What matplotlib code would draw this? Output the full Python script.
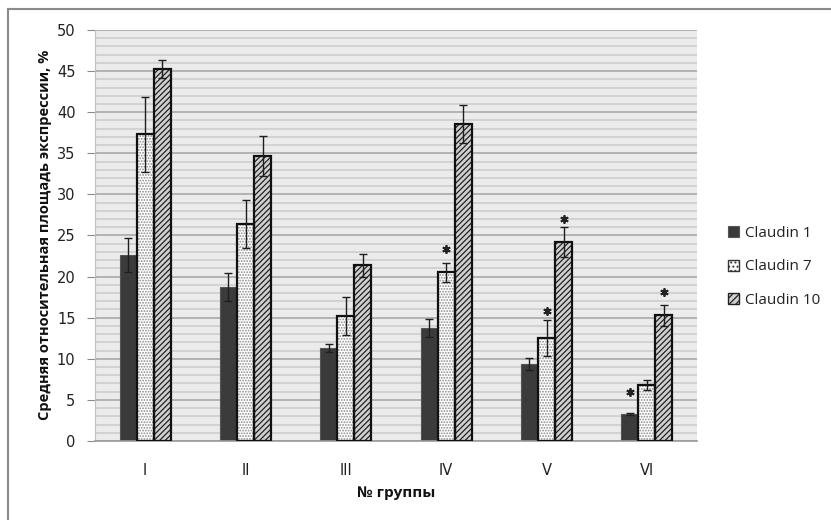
import matplotlib
matplotlib.use("Agg")
import matplotlib.pyplot as plt
import numpy as np
from matplotlib.lines import Line2D
from matplotlib.patches import Patch

groups = ["I", "II", "III", "IV", "V", "VI"]
series_names = ["Claudin 1", "Claudin 7", "Claudin 10"]
claudin1 = [22.6, 18.7, 11.3, 13.8, 9.4, 3.3]
claudin7 = [37.3, 26.4, 15.2, 20.5, 12.5, 6.8]
claudin10 = [45.25, 34.7, 21.4, 38.6, 24.2, 15.3]
err1 = [2.1, 1.7, 0.5, 1.1, 0.75, 0.1]
err7 = [4.6, 2.9, 2.3, 1.1, 2.2, 0.6]
err10 = [1.15, 2.45, 1.4, 2.3, 1.8, 1.3]
# significance marks: (group index, series index, y level of the asterisk)
stars = [(3, 1, 23.3), (4, 1, 15.8), (4, 2, 27.0), (5, 0, 6.0), (5, 2, 18.1)]

y_label = "Средняя относительная площадь экспрессии, %"
x_label = "№ группы"

plt.rcParams['font.family'] = ['DejaVu Sans']

W, H = 831, 520
fig = plt.figure(figsize=(W / 100, H / 100), dpi=100)
fig.patch.set_facecolor("white")
ax = fig.add_axes([95 / W, 1 - 441 / H, 602 / W, 411 / H])
ax.set_facecolor("#ebebeb")

# outer chart frame (left and top visible)
fig.add_artist(Line2D([8 / W, 8 / W], [0, 1 - 9 / H], color="#8a8a8a", lw=1.5))
fig.add_artist(Line2D([8 / W, 1], [1 - 9 / H, 1 - 9 / H], color="#8a8a8a", lw=1.5))

ax.set_xlim(-0.5, len(groups) - 0.5)
ax.set_ylim(0, 50)

# grid
ax.set_yticks(np.arange(0, 51, 5))
ax.set_yticks(np.arange(0, 51, 1), minor=True)
ax.grid(axis="y", which="minor", color="#d0d0d0", lw=1.3, zorder=0)
ax.grid(axis="y", which="major", color="#a3a3a3", lw=1.1, zorder=0)
ax.set_axisbelow(True)

x = np.arange(len(groups))
w = 0.17
data = [claudin1, claudin7, claudin10]
errs = [err1, err7, err10]
plt.rcParams['hatch.linewidth'] = 0.9

# Claudin 1 - solid dark
ax.bar(x - w, claudin1, w, color="#3b3b3b", edgecolor="#555555", lw=0.8, zorder=2)
# Claudin 7 - dotted
ax.bar(x, claudin7, w, color="white", edgecolor="#8c8c8c", hatch="......", lw=0, zorder=2)
ax.bar(x, claudin7, w, fill=False, edgecolor="#111111", lw=1.6, zorder=3)
# Claudin 10 - diagonal hatch
ax.bar(x + w, claudin10, w, color="#d0d0d0", edgecolor="#222222", hatch="//////", lw=0, zorder=2)
ax.bar(x + w, claudin10, w, fill=False, edgecolor="#111111", lw=1.6, zorder=3)

for j in range(3):
    ax.errorbar(x + (j - 1) * w, data[j], yerr=errs[j], fmt="none",
                ecolor="#1e1e1e", elinewidth=1.0, capsize=3, capthick=1.0, zorder=4)

for gi, si, yv in stars:
    ax.plot(gi + (si - 1) * w, yv, marker=(6, 2, 0), ms=6, mew=1.3,
            color="#222222", zorder=5, linestyle="none")

ax.set_xticks(x)
ax.set_xticklabels(groups, fontsize=10.5, color="#222222")
ax.tick_params(axis="x", length=0, pad=16)
ax.tick_params(axis="y", which="major", length=6, color="#8a8a8a", labelsize=10.5,
               labelcolor="#222222", pad=8)
ax.tick_params(axis="y", which="minor", length=0)

for s in ["top", "right"]:
    ax.spines[s].set_visible(False)
ax.spines["bottom"].set_color("#9a9a9a")
ax.spines["bottom"].set_linewidth(1.2)
ax.spines["left"].set_color("#c0c0c0")

fig.text(45 / W, 1 - 235 / H, y_label, rotation=90, ha="center", va="center",
         fontsize=10.5, fontweight="bold", color="#111111", family=["Open Sans", "DejaVu Sans"])
fig.text(396 / W, 1 - 493 / H, x_label, ha="center", va="center",
         fontsize=11, fontweight="bold", color="#111111", family=["Open Sans", "DejaVu Sans"])

handles = [
    Patch(facecolor="#3b3b3b", edgecolor="#555555", lw=0.8),
    Patch(facecolor="white", edgecolor="#333333", hatch="....", lw=1.0),
    Patch(facecolor="#d0d0d0", edgecolor="#222222", hatch="/////", lw=1.0),
]
leg = fig.legend(handles, series_names, loc="center left",
                 bbox_to_anchor=(714 / W, 1 - 267 / H), frameon=False,
                 handlelength=0.75, handleheight=0.75, handletextpad=0.4,
                 labelspacing=1.2, prop={"family": ["Open Sans", "DejaVu Sans"], "size": 11})
for t in leg.get_texts():
    t.set_color("#222222")

fig.savefig("out.png", dpi=100)
